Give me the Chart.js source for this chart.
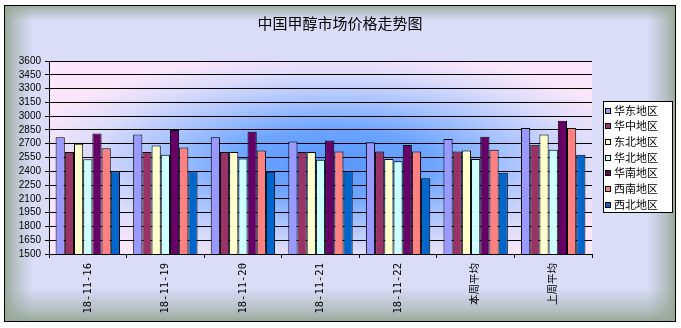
<!DOCTYPE html>
<html><head><meta charset="utf-8">
<script src="https://cdn.jsdelivr.net/npm/chart.js@4/dist/chart.umd.min.js"></script>
<style>html,body{margin:0;padding:0;background:#fff}canvas{display:block}</style>
</head><body>
<canvas id="c" width="681" height="328"></canvas>
<script>
const title = "中国甲醇市场价格走势图";
const categories = ["18-11-16","18-11-19","18-11-20","18-11-21","18-11-22","本周平均","上周平均"];
const seriesNames = ["华东地区","华中地区","东北地区","华北地区","华南地区","西南地区","西北地区"];
const huadong  = [2770, 2800, 2770, 2725, 2715, 2750, 2870];
const huazhong = [2610, 2610, 2610, 2610, 2615, 2615, 2690];
const dongbei  = [2700, 2680, 2610, 2610, 2535, 2625, 2800];
const huabei   = [2530, 2580, 2540, 2525, 2510, 2535, 2635];
const huanan   = [2810, 2850, 2830, 2735, 2685, 2775, 2950];
const xinan    = [2650, 2660, 2625, 2615, 2615, 2635, 2870];
const xibei    = [2400, 2400, 2395, 2400, 2325, 2385, 2580];
const yTicksMin = 1500, yTicksMax = 3600, yStep = 150;

const seriesValues = [huadong, huazhong, dongbei, huabei, huanan, xinan, xibei];
const colors = ["#9999FF","#993366","#FFFFCC","#CCFFFF","#660066","#FF8080","#0066CC"];

function edgeBand(ctx, x0,y0,x1,y1, dir, size, col){
  let g;
  if (dir==='l') g = ctx.createLinearGradient(x0,0,x0+size,0);
  if (dir==='r') g = ctx.createLinearGradient(x1,0,x1-size,0);
  if (dir==='t') g = ctx.createLinearGradient(0,y0,0,y0+size);
  if (dir==='b') g = ctx.createLinearGradient(0,y1,0,y1-size);
  g.addColorStop(0,col);
  g.addColorStop(0.35,col.replace('1)','0.55)'));
  g.addColorStop(1,col.replace('1)','0)'));
  ctx.fillStyle=g;
  if (dir==='l') ctx.fillRect(x0,y0,size,y1-y0);
  if (dir==='r') ctx.fillRect(x1-size,y0,size,y1-y0);
  if (dir==='t') ctx.fillRect(x0,y0,x1-x0,size);
  if (dir==='b') ctx.fillRect(x0,y1-size,x1-x0,size);
}

const bgPlugin = {
  id: 'bg',
  beforeDraw(chart) {
    const ctx = chart.ctx, W = chart.width, H = chart.height;
    ctx.save();
    ctx.fillStyle = '#ffffff';
    ctx.fillRect(0,0,W,H);
    const x0=4,y0=5,x1=676,y1=322;
    ctx.fillStyle = '#dadcf8';
    ctx.fillRect(x0,y0,x1-x0,y1-y0);
    const ec = 'rgba(150,168,150,1)';
    edgeBand(ctx,x0,y0,x1,y1,'l',28,ec);
    edgeBand(ctx,x0,y0,x1,y1,'r',28,ec);
    edgeBand(ctx,x0,y0,x1,y1,'t',16,ec);
    edgeBand(ctx,x0,y0,x1,y1,'b',34,ec);
    ctx.strokeStyle='#000'; ctx.lineWidth=1;
    ctx.strokeRect(x0+0.5,y0+0.5,x1-x0-1,y1-y0-1);
    ctx.restore();
    // plot background
    const a = chart.chartArea;
    ctx.save();
    ctx.beginPath(); ctx.rect(a.left,a.top,a.right-a.left,a.bottom-a.top); ctx.clip();
    const cx=(a.left+a.right)/2+15, cy=(a.top+a.bottom)/2+5;
    const w=(a.right-a.left)/2, h=(a.bottom-a.top)/2;
    ctx.translate(cx,cy); ctx.scale(1,h/w);
    const g = ctx.createRadialGradient(0,0,0,0,0,w*1.15);
    g.addColorStop(0,'#5a96ff');
    g.addColorStop(0.3,'#6ca4ff');
    g.addColorStop(0.55,'#a6c2ff');
    g.addColorStop(0.8,'#dcdcfa');
    g.addColorStop(1,'#fbe6fb');
    ctx.fillStyle=g;
    ctx.fillRect(-2*w,-2*w,4*w,4*w);
    ctx.restore();
  },
  afterDraw(chart) {
    const ctx = chart.ctx;
    ctx.save();
    ctx.fillStyle='#000';
    ctx.font='15px "Noto Sans CJK SC"';
    ctx.textAlign='center'; ctx.textBaseline='middle';
    ctx.fillText(title, 340, 23);
    const lx=603, ly=101, lw=70, lh=112;
    ctx.fillStyle='#fff';
    ctx.fillRect(lx,ly,lw,lh);
    ctx.strokeStyle='#000'; ctx.lineWidth=1;
    ctx.strokeRect(lx+0.5,ly+0.5,lw-1,lh-1);
    ctx.font='11px "Noto Sans CJK SC"';
    ctx.textAlign='left'; ctx.textBaseline='middle';
    chart.data.datasets.forEach((ds,i)=>{
      const y = 110.5 + i*15.7;
      ctx.fillStyle=ds.backgroundColor;
      ctx.fillRect(605,Math.round(y)-3,6,6);
      ctx.strokeStyle='#000';
      ctx.strokeRect(605.5,Math.round(y)-2.5,5,5);
      ctx.fillStyle='#000';
      ctx.fillText(ds.label, 614, y);
    });
    ctx.restore();
  }
};

new Chart(document.getElementById('c'), {
  type: 'bar',
  data: {
    labels: categories,
    datasets: seriesNames.map((n,i)=>({
      label: n, data: seriesValues[i], backgroundColor: colors[i],
      borderColor: '#000', borderWidth: 1,
      categoryPercentage: 0.83, barPercentage: 1.0
    }))
  },
  options: {
    responsive: false, animation: false,
    layout: { padding: { left: 0, top: 61, right: 89, bottom: 0 } },
    plugins: { legend: { display: false }, title: { display: false }, tooltip: { enabled: false } },
    scales: {
      x: {
        offset: true,
        grid: { offset: true, drawOnChartArea: false, color: '#000', tickLength: 4 },
        border: { color: '#000', width: 1 },
        ticks: { color: '#000', maxRotation: 90, minRotation: 90, padding: 5,
                 font: { family: '"DejaVu Sans Mono","Noto Sans CJK SC"', size: 10.5 } },
        afterFit(s){ s.height = 74; }
      },
      y: {
        min: yTicksMin, max: yTicksMax,
        grid: { color: '#000', tickLength: 4 },
        border: { color: '#000', width: 1 },
        ticks: { stepSize: yStep, color: '#000', padding: 4, autoSkip: false,
                 callback: v => String(v),
                 font: { family: '"Liberation Sans"', size: 10 } },
        afterFit(s){ s.width = 49; }
      }
    }
  },
  plugins: [bgPlugin]
});
</script>
</body></html>
